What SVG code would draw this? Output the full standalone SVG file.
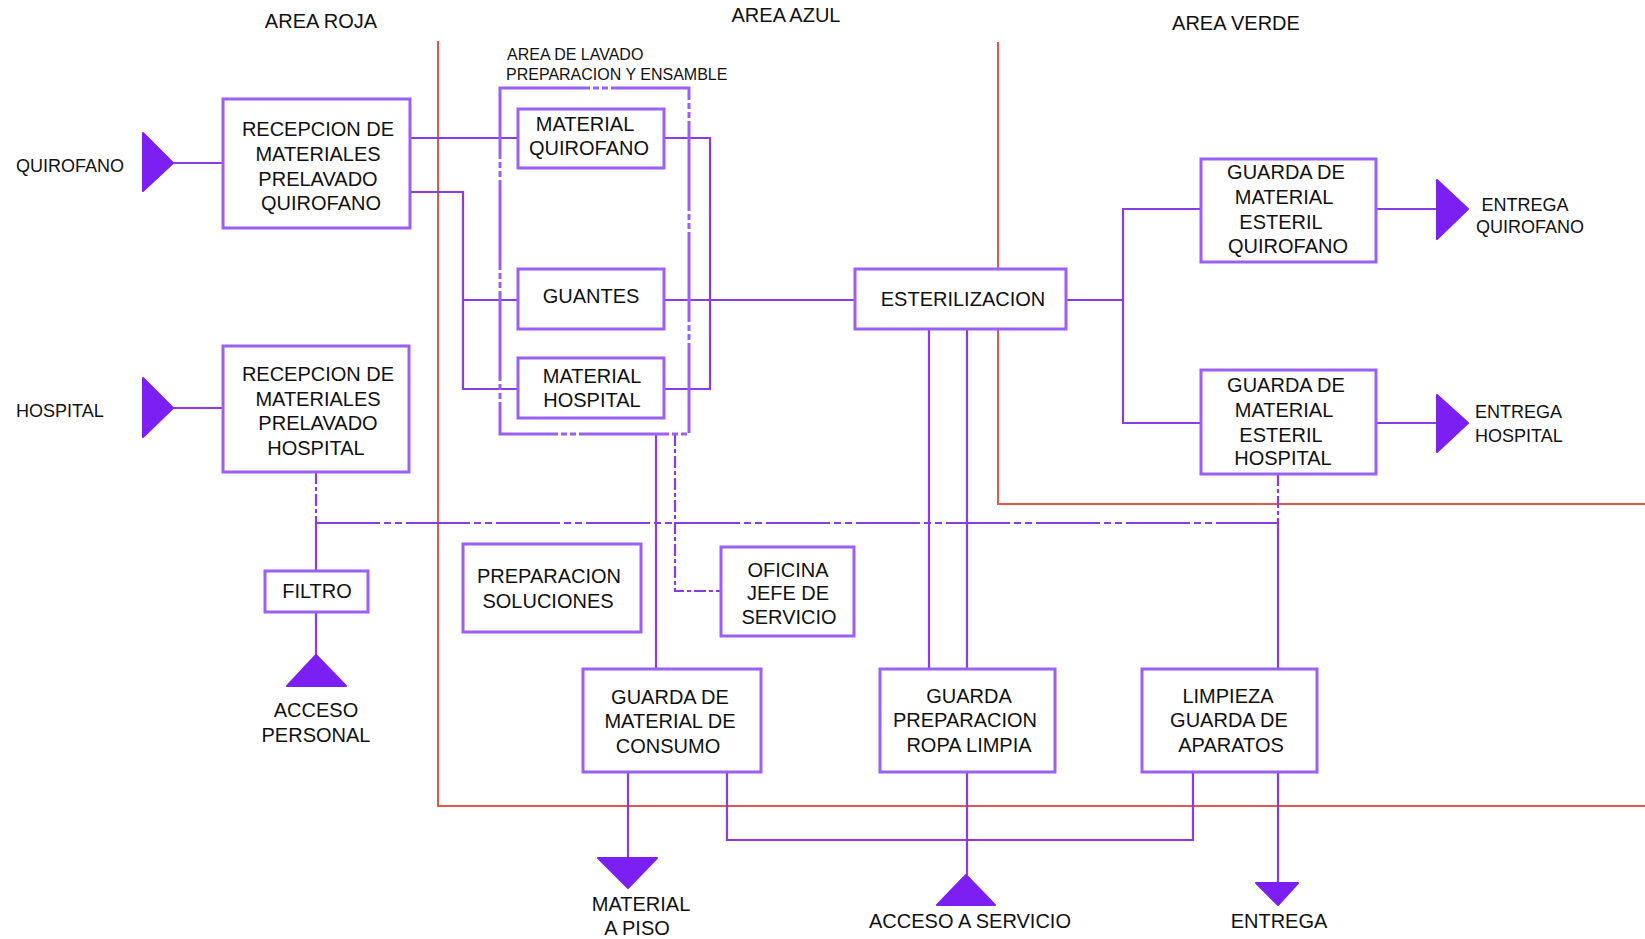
<svg xmlns="http://www.w3.org/2000/svg" width="1645" height="939" viewBox="0 0 1645 939">
  <style>
    .bg { fill: #ffffff; }
    .box { fill: #ffffff; stroke: #9b5ff2; stroke-width: 3; }
    .zone { fill: none; stroke: #9b5ff2; stroke-width: 3; stroke-dasharray: 90 3 6 3 6 3; }
    .wall { fill: none; stroke: #e2574c; stroke-width: 2; }
    .ln { fill: none; stroke: #8a3be8; stroke-width: 2.2; }
    .dd { fill: none; stroke: #8a3be8; stroke-width: 2.2; stroke-dasharray: 64 4 7 4 7 4; }
    .dv { fill: none; stroke: #8a3be8; stroke-width: 2.2; stroke-dasharray: 12 3 4 3; }
    .tri { fill: #7b1ff2; stroke: #7b1ff2; stroke-width: 2; stroke-linejoin: round; }
    text { font-family: "Liberation Sans", Arial, sans-serif; fill: #111111; }
    .t20 { font-size: 20px; }
    .t18 { font-size: 18px; }
    .t16 { font-size: 16px; }
    .c { text-anchor: middle; }
  </style>

  <rect class="bg" x="0" y="0" width="1645" height="939"/>

  <!-- zone boundaries -->
  <g id="walls">
    <polyline class="wall" points="438,41 438,806 1645,806"/>
    <polyline class="wall" points="998,42 998,504 1645,504"/>
  </g>

  <!-- zone titles -->
  <g id="titles">
    <text class="t20 c" x="321" y="28">AREA ROJA</text>
    <text class="t20 c" x="786" y="22">AREA AZUL</text>
    <text class="t20 c" x="1236" y="30">AREA VERDE</text>
  </g>

  <!-- connectors -->
  <g id="connectors">
    <!-- inputs -->
    <line class="ln" x1="173" y1="163" x2="223" y2="163"/>
    <line class="ln" x1="173" y1="408" x2="223" y2="408"/>
    <!-- reception to washing -->
    <line class="ln" x1="410" y1="138" x2="518" y2="138"/>
    <polyline class="ln" points="410,192 463,192 463,389 518,389"/>
    <line class="ln" x1="463" y1="300" x2="518" y2="300"/>
    <!-- washing outputs -->
    <polyline class="ln" points="664,138 710,138 710,389 664,389"/>
    <line class="ln" x1="664" y1="300" x2="855" y2="300"/>
    <!-- sterilization to sterile storage -->
    <line class="ln" x1="1066" y1="300" x2="1123" y2="300"/>
    <polyline class="ln" points="1201,209 1123,209 1123,423 1201,423"/>
    <line class="ln" x1="1376" y1="209" x2="1437" y2="209"/>
    <line class="ln" x1="1376" y1="423" x2="1437" y2="423"/>
    <!-- personnel corridor -->
    <line class="dv" x1="316" y1="472" x2="316" y2="523"/>
    <line class="dd" x1="316" y1="523" x2="1278" y2="523"/>
    <line class="ln" x1="316" y1="523" x2="316" y2="571"/>
    <line class="ln" x1="316" y1="612" x2="316" y2="655"/>
    <!-- washing area down to storage and office -->
    <line class="ln" x1="656" y1="434" x2="656" y2="669"/>
    <polyline class="dv" points="675,434 675,591 721,591"/>
    <!-- sterilization down to clean linen -->
    <line class="ln" x1="929" y1="329" x2="929" y2="669"/>
    <line class="ln" x1="967" y1="329" x2="967" y2="669"/>
    <!-- sterile hospital storage down to equipment cleaning -->
    <line class="dv" x1="1278" y1="474" x2="1278" y2="530"/>
    <line class="ln" x1="1278" y1="530" x2="1278" y2="669"/>
    <!-- bottom exits -->
    <line class="ln" x1="628" y1="772" x2="628" y2="858"/>
    <polyline class="ln" points="727,772 727,840 1193,840 1193,772"/>
    <line class="ln" x1="967" y1="772" x2="967" y2="875"/>
    <line class="ln" x1="1278" y1="772" x2="1278" y2="883"/>
  </g>

  <!-- terminals -->
  <g id="terminals">
    <polygon class="tri" points="143,133 173,163 143,191"/>
    <polygon class="tri" points="143,378 173,408 143,437"/>
    <polygon class="tri" points="1437,180 1468,209 1437,239"/>
    <polygon class="tri" points="1437,395 1468,423 1437,452"/>
    <polygon class="tri" points="316,655 346,686 287,686"/>
    <polygon class="tri" points="598,858 657,858 628,888"/>
    <polygon class="tri" points="966,875 995,905 937,905"/>
    <polygon class="tri" points="1256,883 1298,883 1278,905"/>
  </g>

  <!-- terminal labels -->
  <g id="labels">
    <text class="t18" x="16" y="172">QUIROFANO</text>
    <text class="t18" x="16" y="417">HOSPITAL</text>
    <text class="t18 c" x="1525" y="211">ENTREGA</text>
    <text class="t18 c" x="1530" y="233">QUIROFANO</text>
    <text class="t18" x="1475" y="418">ENTREGA</text>
    <text class="t18" x="1475" y="442">HOSPITAL</text>
    <text class="t20 c" x="316" y="717">ACCESO</text>
    <text class="t20 c" x="316" y="742">PERSONAL</text>
    <text class="t20 c" x="641" y="911">MATERIAL</text>
    <text class="t20 c" x="637" y="935">A PISO</text>
    <text class="t20 c" x="970" y="928">ACCESO A SERVICIO</text>
    <text class="t20 c" x="1279" y="928">ENTREGA</text>
  </g>

  <!-- washing, preparation and assembly area -->
  <g id="area-lavado">
    <rect class="zone" x="500" y="88" width="189" height="346"/>
    <text class="t16" x="507" y="60">AREA DE LAVADO</text>
    <text class="t16" x="506" y="80">PREPARACION Y ENSAMBLE</text>
  </g>

  <g id="recepcion-quirofano">
    <rect class="box" x="223" y="99" width="187" height="129"/>
    <text class="t20 c" x="318" y="136">RECEPCION DE</text>
    <text class="t20 c" x="318" y="161">MATERIALES</text>
    <text class="t20 c" x="318" y="186">PRELAVADO</text>
    <text class="t20 c" x="321" y="210">QUIROFANO</text>
  </g>

  <g id="recepcion-hospital">
    <rect class="box" x="223" y="346" width="186" height="126"/>
    <text class="t20 c" x="318" y="381">RECEPCION DE</text>
    <text class="t20 c" x="318" y="406">MATERIALES</text>
    <text class="t20 c" x="318" y="430">PRELAVADO</text>
    <text class="t20 c" x="316" y="455">HOSPITAL</text>
  </g>

  <g id="filtro">
    <rect class="box" x="265" y="571" width="103" height="41"/>
    <text class="t20 c" x="317" y="598">FILTRO</text>
  </g>

  <g id="material-quirofano">
    <rect class="box" x="518" y="109" width="146" height="59"/>
    <text class="t20 c" x="585" y="131">MATERIAL</text>
    <text class="t20 c" x="589" y="155">QUIROFANO</text>
  </g>

  <g id="guantes">
    <rect class="box" x="518" y="269" width="146" height="60"/>
    <text class="t20 c" x="591" y="303">GUANTES</text>
  </g>

  <g id="material-hospital">
    <rect class="box" x="518" y="358" width="146" height="60"/>
    <text class="t20 c" x="592" y="383">MATERIAL</text>
    <text class="t20 c" x="592" y="407">HOSPITAL</text>
  </g>

  <g id="esterilizacion">
    <rect class="box" x="855" y="269" width="211" height="60"/>
    <text class="t20 c" x="963" y="306">ESTERILIZACION</text>
  </g>

  <g id="guarda-esteril-quirofano">
    <rect class="box" x="1201" y="159" width="175" height="103"/>
    <text class="t20 c" x="1286" y="179">GUARDA DE</text>
    <text class="t20 c" x="1284" y="204">MATERIAL</text>
    <text class="t20 c" x="1281" y="229">ESTERIL</text>
    <text class="t20 c" x="1288" y="253">QUIROFANO</text>
  </g>

  <g id="guarda-esteril-hospital">
    <rect class="box" x="1201" y="370" width="175" height="104"/>
    <text class="t20 c" x="1286" y="392">GUARDA DE</text>
    <text class="t20 c" x="1284" y="417">MATERIAL</text>
    <text class="t20 c" x="1281" y="442">ESTERIL</text>
    <text class="t20 c" x="1283" y="465">HOSPITAL</text>
  </g>

  <g id="preparacion-soluciones">
    <rect class="box" x="463" y="544" width="178" height="88"/>
    <text class="t20 c" x="549" y="583">PREPARACION</text>
    <text class="t20 c" x="548" y="608">SOLUCIONES</text>
  </g>

  <g id="oficina-jefe">
    <rect class="box" x="721" y="547" width="133" height="89"/>
    <text class="t20 c" x="788" y="577">OFICINA</text>
    <text class="t20 c" x="788" y="600">JEFE DE</text>
    <text class="t20 c" x="789" y="624">SERVICIO</text>
  </g>

  <g id="guarda-consumo">
    <rect class="box" x="583" y="669" width="178" height="103"/>
    <text class="t20 c" x="670" y="704">GUARDA DE</text>
    <text class="t20 c" x="670" y="728">MATERIAL DE</text>
    <text class="t20 c" x="668" y="753">CONSUMO</text>
  </g>

  <g id="guarda-ropa">
    <rect class="box" x="880" y="669" width="175" height="103"/>
    <text class="t20 c" x="969" y="703">GUARDA</text>
    <text class="t20 c" x="965" y="727">PREPARACION</text>
    <text class="t20 c" x="969" y="752">ROPA LIMPIA</text>
  </g>

  <g id="limpieza-aparatos">
    <rect class="box" x="1142" y="669" width="175" height="103"/>
    <text class="t20 c" x="1228" y="703">LIMPIEZA</text>
    <text class="t20 c" x="1229" y="727">GUARDA DE</text>
    <text class="t20 c" x="1231" y="752">APARATOS</text>
  </g>
</svg>
